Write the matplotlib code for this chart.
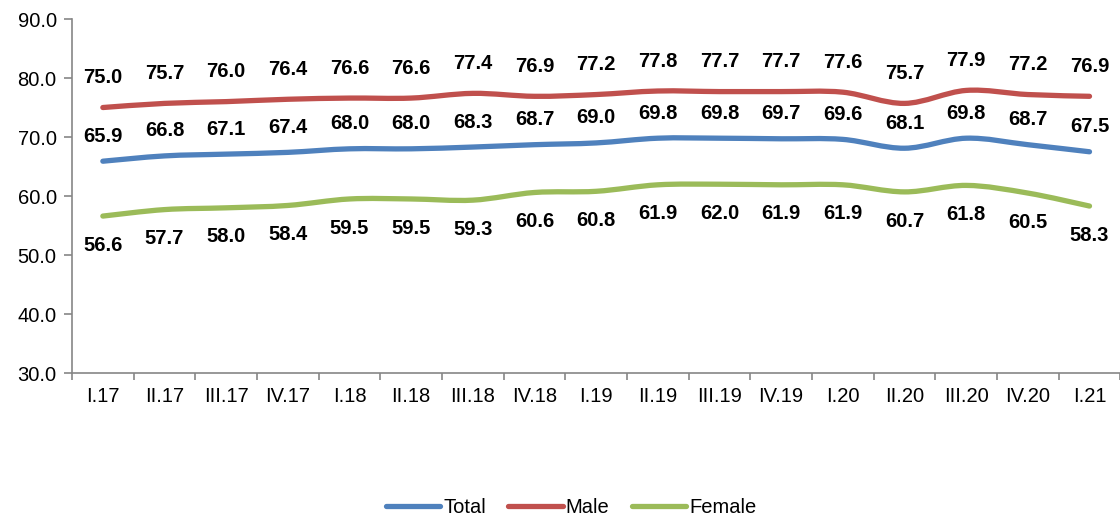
import numpy as np
import matplotlib.pyplot as plt
from matplotlib.path import Path
from matplotlib.patches import PathPatch
from matplotlib.lines import Line2D

plt.rcParams['font.family'] = ['Liberation Sans', 'DejaVu Sans']

quarters = ['I.17', 'II.17', 'III.17', 'IV.17', 'I.18', 'II.18', 'III.18', 'IV.18',
            'I.19', 'II.19', 'III.19', 'IV.19', 'I.20', 'II.20', 'III.20', 'IV.20', 'I.21']
total = [65.9, 66.8, 67.1, 67.4, 68.0, 68.0, 68.3, 68.7, 69.0,
         69.8, 69.8, 69.7, 69.6, 68.1, 69.8, 68.7, 67.5]
male = [75.0, 75.7, 76.0, 76.4, 76.6, 76.6, 77.4, 76.9, 77.2,
        77.8, 77.7, 77.7, 77.6, 75.7, 77.9, 77.2, 76.9]
female = [56.6, 57.7, 58.0, 58.4, 59.5, 59.5, 59.3, 60.6, 60.8,
          61.9, 62.0, 61.9, 61.9, 60.7, 61.8, 60.5, 58.3]

fig = plt.figure(figsize=(11.2, 5.17), dpi=100)
ax = fig.add_axes([0.0643, 0.2785, 0.936, 0.6847])


def smooth_path(xs, ys):
    # Excel-style smoothed line: cubic Bezier segments (Catmull-Rom handles)
    pts = np.column_stack([xs, ys])
    verts = [pts[0]]
    codes = [Path.MOVETO]
    n = len(pts)
    for i in range(n - 1):
        p0 = pts[i - 1] if i > 0 else pts[i]
        p1, p2 = pts[i], pts[i + 1]
        p3 = pts[i + 2] if i + 2 < n else pts[i + 1]
        c1 = p1 + (p2 - p0) / 6.0
        c2 = p2 - (p3 - p1) / 6.0
        verts += [c1, c2, p2]
        codes += [Path.CURVE4] * 3
    return Path(verts, codes)


series = [('Total', total, '#4F81BD', 18),
          ('Male', male, '#C0504D', 21.5),
          ('Female', female, '#9BBB59', -21)]

x = np.arange(len(quarters))
handles = []
for name, vals, color, off in series:
    patch = PathPatch(smooth_path(x, vals), facecolor='none', edgecolor=color,
                      lw=3.8, capstyle='round', joinstyle='round')
    ax.add_patch(patch)
    for xi, v in zip(x, vals):
        ax.annotate(f'{v:.1f}', (xi, v), xytext=(0, off), textcoords='offset points',
                    ha='center', va='center', fontsize=14.5, fontweight='bold',
                    color='black')
    handles.append(Line2D([], [], color=color, lw=3.8, solid_capstyle='round', label=name))

ax.set_xlim(-0.5, len(quarters) - 0.5)
ax.set_ylim(30, 90)
ax.set_yticks(np.arange(30, 91, 10))
ax.set_yticklabels([f'{v:.1f}' for v in np.arange(30, 91, 10)], fontsize=14.5)
ax.set_xticks(x)
ax.set_xticklabels(quarters, fontsize=14.5)
ax.set_xticks(np.arange(-0.5, len(quarters), 1), minor=True)
ax.tick_params(axis='x', which='major', length=0, pad=10)
ax.tick_params(axis='x', which='minor', length=5, color='#868686', width=1.2)
ax.tick_params(axis='y', length=6, color='#868686', width=1.2, pad=5)

for s in ['top', 'right']:
    ax.spines[s].set_visible(False)
for s in ['left', 'bottom']:
    ax.spines[s].set_color('#868686')
    ax.spines[s].set_linewidth(1.2)

fig.legend(handles=handles, loc='center', bbox_to_anchor=(0.51, 0.018),
           ncol=3, frameon=False, fontsize=14.5, handlelength=2.7,
           columnspacing=1.1, handletextpad=0.15)

fig.savefig('out.png', dpi=100, facecolor='white')
